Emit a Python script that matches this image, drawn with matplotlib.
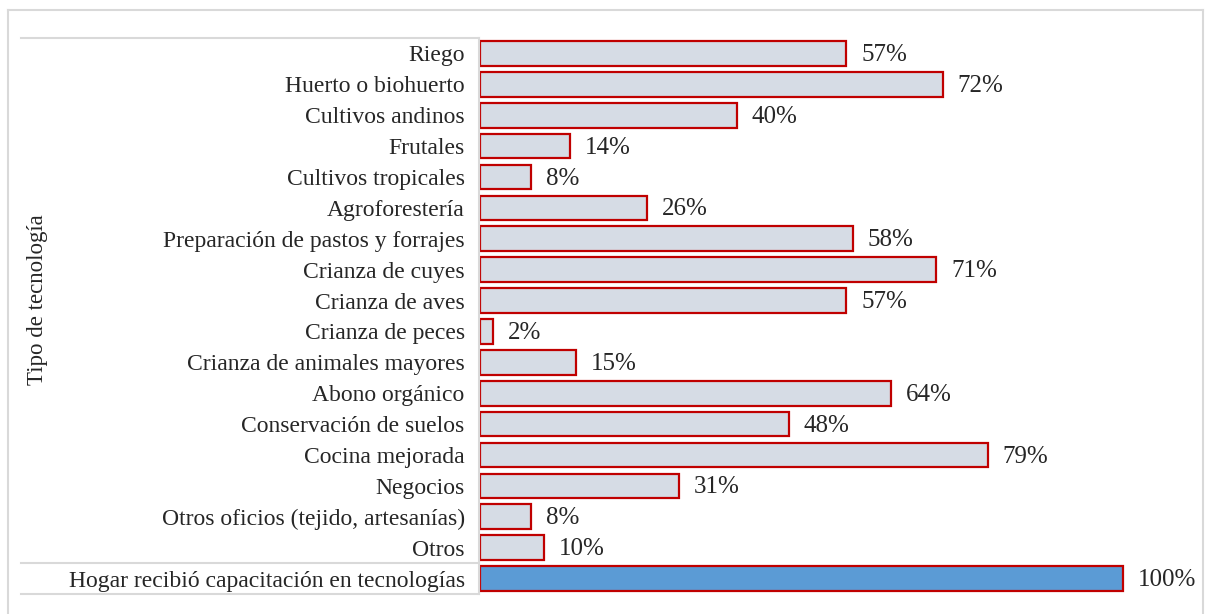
import matplotlib
matplotlib.use("Agg")
from matplotlib import pyplot as plt
from matplotlib.lines import Line2D

# Tipos de tecnología (de arriba hacia abajo)
categorias = ["Riego", "Huerto o biohuerto", "Cultivos andinos", "Frutales",
              "Cultivos tropicales", "Agroforestería",
              "Preparación de pastos y forrajes", "Crianza de cuyes",
              "Crianza de aves", "Crianza de peces",
              "Crianza de animales mayores", "Abono orgánico",
              "Conservación de suelos", "Cocina mejorada", "Negocios",
              "Otros oficios (tejido, artesanías)", "Otros",
              "Hogar recibió capacitación en tecnologías"]
valores = [57, 72, 40, 14, 8, 26, 58, 71, 57, 2, 15, 64, 48, 79, 31, 8, 10, 100]

plt.rcParams['font.family'] = ['Liberation Serif', 'DejaVu Serif']

W, H = 1205, 614
fig = plt.figure(figsize=(W / 100, H / 100), dpi=100)

# ejes: x de 480 a 1200 px, y de 38 a 594 px
ax = fig.add_axes([480 / W, 1 - 594 / H, 720 / W, 556 / H])

colores = ["#D6DCE5"] * (len(valores) - 1) + ["#5B9BD5"]
y = list(range(len(categorias)))
ax.barh(y, valores, height=0.8, color=colores, edgecolor="#C00000", linewidth=1.6)

for yi, v in zip(y, valores):
    ax.text(v + 2.3, yi + 0.05, "{}%".format(v), va="center", ha="left",
            fontsize=18, color="#262626")

ax.set_xlim(0, 112)
ax.set_ylim(len(categorias) - 0.5, -0.5)
ax.set_xticks([])
ax.set_yticks(y)
ax.set_yticklabels(categorias, fontsize=17, color="#262626")
ax.tick_params(axis="y", length=0, pad=11)
for s in ax.spines.values():
    s.set_visible(False)


def px_line(x0, y0, x1, y1, color="#D9D9D9", lw=1.5):
    fig.add_artist(Line2D([x0 / W, x1 / W], [1 - y0 / H, 1 - y1 / H],
                          color=color, linewidth=lw, transform=fig.transFigure))


# marco del gráfico
px_line(8, 10, 1203, 10)
px_line(8, 10, 8, 614)
px_line(1203, 10, 1203, 614)
# líneas de la tabla de categorías
px_line(21, 38, 479, 38)
px_line(21, 563, 479, 563)
px_line(21, 594, 479, 594)
px_line(479, 38, 479, 594)

fig.text(38 / W, 1 - 300 / H, "Tipo de tecnología", rotation=90, ha="center",
         va="center", fontsize=16.5, color="#262626")

fig.savefig("out.png", dpi=100)
